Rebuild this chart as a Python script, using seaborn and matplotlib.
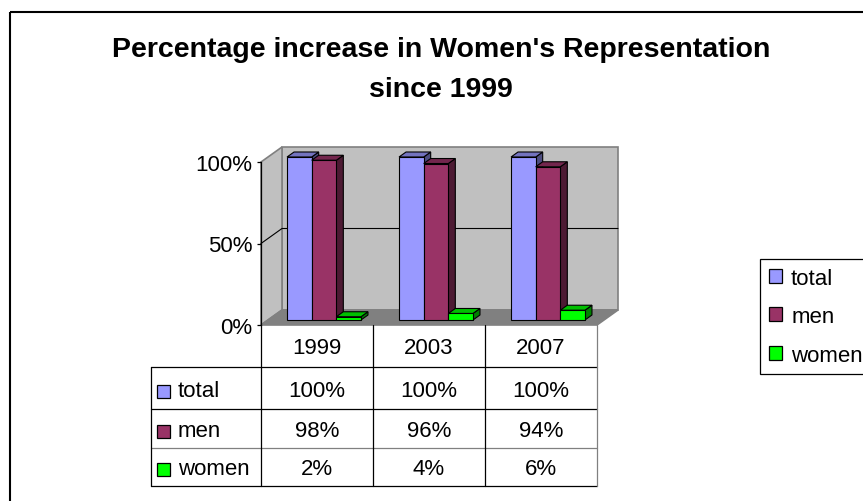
import pandas as pd
import seaborn as sns
import matplotlib.pyplot as plt
import matplotlib.transforms as mtransforms
import matplotlib.colors as mcolors
from matplotlib.patches import Polygon, Rectangle
from matplotlib.lines import Line2D

years = ['1999', '2003', '2007']
series = ['total', 'men', 'women']
total = [1.00, 1.00, 1.00]
men = [0.98, 0.96, 0.94]
women = [0.02, 0.04, 0.06]
yticks = [0, 0.5, 1.0]
ytick_labels = ['0%', '50%', '100%']
title_lines = ["Percentage increase in Women's Representation", 'since 1999']

colors = {'total': '#9999FF', 'men': '#993366', 'women': '#00FF00'}

df = pd.DataFrame({
    'year': years * 3,
    'series': [s for s in series for _ in years],
    'value': total + men + women,
})

sns.set_style('white')
plt.rcParams['font.family'] = ['Liberation Sans', 'DejaVu Sans']
plt.rcParams['text.color'] = 'black'

W, H, DPI = 863, 502, 100
fig = plt.figure(figsize=(W / DPI, H / DPI), dpi=DPI)
# pixel coordinates, origin top-left
pix = mtransforms.Affine2D().scale(1 / DPI, -1 / DPI).translate(0, H / DPI) + fig.dpi_scale_trans

# front face of the 3d plot box
fx0, fx1, fy0, fy1 = 261, 597, 326, 163
ax = fig.add_axes([fx0 / W, 1 - fy0 / H, (fx1 - fx0) / W, (fy0 - fy1) / H])
ax.set_facecolor('none')

sns.barplot(data=df, x='year', y='value', hue='series', hue_order=series,
            palette=colors, width=0.66, saturation=1, edgecolor='black',
            linewidth=0.8, legend=False, ax=ax)
ax.set_xlim(-0.5, 2.5)
ax.set_ylim(0, 1)

ux = (fx1 - fx0) / 3.0
uy = float(fy0 - fy1)
wdx, wdy = 21 / ux, 15 / uy   # wall depth
bdx, bdy = 7 / ux, 5 / uy     # bar depth

def shade(c, f):
    r, g, b = mcolors.to_rgb(c)
    return (r * f, g * f, b * f)

# walls + floor
grey = '#808080'
wall_kw = dict(clip_on=False, zorder=0.5, edgecolor=grey, lw=1.2)
ax.add_patch(Polygon([(-0.5 + wdx, wdy), (2.5 + wdx, wdy), (2.5 + wdx, 1 + wdy), (-0.5 + wdx, 1 + wdy)],
                     facecolor='#C0C0C0', **wall_kw))
ax.add_patch(Polygon([(-0.5, 0), (-0.5 + wdx, wdy), (-0.5 + wdx, 1 + wdy), (-0.5, 1)],
                     facecolor='#C0C0C0', **wall_kw))
ax.add_patch(Polygon([(-0.5, 0), (2.5, 0), (2.5 + wdx, wdy), (-0.5 + wdx, wdy)],
                     facecolor=grey, **wall_kw))
# gridline at 50%
ax.plot([-0.5, -0.5 + wdx, 2.5 + wdx], [0.5, 0.5 + wdy, 0.5 + wdy], color='black', lw=0.8,
        clip_on=False, zorder=0.6)

# 3d bars: move the front faces back a little and add side/top faces
bt = ax.transData + mtransforms.ScaledTranslation(7 / DPI, 5 / DPI, fig.dpi_scale_trans)
for p in list(ax.patches):
    if not isinstance(p, Rectangle):
        continue
    x, w, h = p.get_x(), p.get_width(), p.get_height()
    c = p.get_facecolor()
    z = 5 + x
    p.set_transform(bt)
    p.set_zorder(z)
    p.set_clip_on(False)
    side = Polygon([(x + w, 0), (x + w + bdx, bdy), (x + w + bdx, h + bdy), (x + w, h)],
                   facecolor=shade(c, 0.5), edgecolor='black', lw=0.8, transform=bt,
                   clip_on=False, zorder=z - 0.01)
    top = Polygon([(x, h), (x + w, h), (x + w + bdx, h + bdy), (x + bdx, h + bdy)],
                  facecolor=shade(c, 0.75), edgecolor='black', lw=0.8, transform=bt,
                  clip_on=False, zorder=z - 0.01)
    ax.add_patch(side)
    ax.add_patch(top)

for s in ['top', 'right', 'bottom']:
    ax.spines[s].set_visible(False)
ax.spines['left'].set_color('black')
ax.spines['left'].set_linewidth(0.9)
ax.spines['left'].set_zorder(2)
ax.set_xticks([])
ax.set_yticks(yticks, ytick_labels)
ax.tick_params(axis='y', left=True, length=3, width=0.9, color='black', pad=3,
               labelsize=16, labelcolor='black')
ax.set_xlabel('')
ax.set_ylabel('')

# data table under the plot
bl = mtransforms.blended_transform_factory(ax.transData, pix)
row_edges = [326, 368, 410, 449, 487]
baselines = [397, 437, 475]
lab_left = 151
line_kw = dict(color='black', lw=0.9)
for i, ye in enumerate(row_edges):
    if i == 0:
        continue
    col = grey if ye == 449 else 'black'
    fig.add_artist(Line2D([lab_left, fx1], [ye, ye], transform=pix, color=col, lw=0.9))
for j, xe in enumerate([-0.5, 0.5, 1.5, 2.5]):
    col = grey if j == 3 else 'black'
    fig.add_artist(Line2D([xe, xe], [row_edges[0], row_edges[-1]], transform=bl, color=col, lw=0.9))
fig.add_artist(Line2D([lab_left, lab_left], [row_edges[1], row_edges[-1]], transform=pix, **line_kw))

for i, yr in enumerate(years):
    fig.text(i, 354, yr, transform=bl, ha='center', va='baseline', fontsize=16)
for s, vals, yb in zip(series, [total, men, women], baselines):
    fig.add_artist(Rectangle((157, yb - 11), 13, 13, transform=pix, facecolor=colors[s],
                             edgecolor='black', lw=0.9))
    fig.text(178, yb, s, transform=pix, ha='left', va='baseline', fontsize=16)
    for i, v in enumerate(vals):
        fig.text(i, yb, f'{round(v * 100)}%', transform=bl, ha='center', va='baseline', fontsize=16)

# legend on the right
handles = [Rectangle((0, 0), 1, 1, facecolor=colors[s], edgecolor='black', lw=0.9) for s in series]
leg = fig.legend(handles, series, loc='upper left', bbox_to_anchor=(760 / W, 1 - 260 / H),
                 bbox_transform=fig.transFigure, borderaxespad=0, fontsize=16, frameon=True,
                 fancybox=False, edgecolor='black', framealpha=1, handlelength=0.6,
                 handleheight=0.6, handletextpad=0.4, borderpad=0.4, labelspacing=0.78)
leg.get_frame().set_linewidth(0.9)

# title
fig.text(441, 57, title_lines[0], transform=pix, ha='center', va='baseline',
         fontsize=20.5, weight='bold')
fig.text(441, 97, title_lines[1], transform=pix, ha='center', va='baseline',
         fontsize=20.5, weight='bold')

# chart area border
fig.add_artist(Rectangle((10, 13), 900, 600, transform=pix, fill=False, lw=1.5, edgecolor='black'))

fig.savefig('out.png', dpi=DPI)
